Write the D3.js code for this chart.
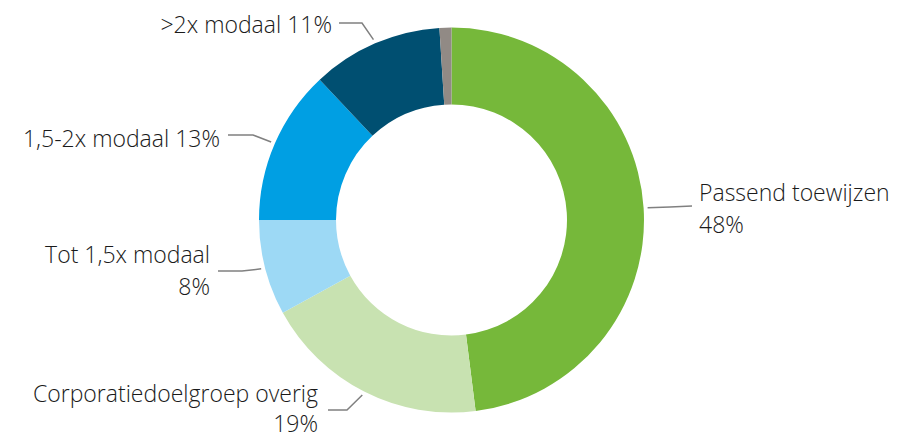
<!DOCTYPE html>
<html>
<head>
<meta charset="utf-8">
<script src="https://d3js.org/d3.v7.min.js"></script>
<style>
    body { margin: 0; background: #fff; }
    text { font-family: "Open Sans", sans-serif; font-weight: 300; fill: #1a1a1a; }
</style>
</head>
<body>
<div id="chart"></div>
<script>
// slices, clockwise from 12 o'clock
var categories = ["Passend toewijzen", "Corporatiedoelgroep overig", "Tot 1,5x modaal", "1,5-2x modaal", ">2x modaal", "Overig"];
var values = [48, 19, 8, 13, 11, 1];
var labelLines = [["Passend toewijzen", "48%"], ["Corporatiedoelgroep overig", "19%"], ["Tot 1,5x modaal", "8%"], ["1,5-2x modaal 13%"], [">2x modaal 11%"], []];
var colors = ["#76b83a", "#c8e2b1", "#9dd9f5", "#009fe3", "#004f71", "#918a85"];

window.onload = function() {
    donut();
};

function donut() {
    var width = 897;
    var height = 439;
    var cx = 451.5, cy = 220;
    var outer = 192.5, inner = 115.5;

    var svg = d3.select("#chart").append("svg")
        .attr("width", width)
        .attr("height", height);

    var pie = d3.pie().sort(null).value(function(d) { return d; });
    var arcs = pie(values);

    var arc = d3.arc().innerRadius(inner).outerRadius(outer);

    var g = svg.append("g").attr("transform", "translate(" + cx + "," + cy + ")");

    g.selectAll(".slice").data(arcs).enter().append("path")
        .attr("class", "slice")
        .attr("d", arc)
        .attr("fill", function(d, i) { return colors[i]; });

    // label layout: anchor, text x, first baseline, line gap, and the leader's start + elbow
    var layout = [
        {anchor: "start", x: 699, y: 201, gap: 32, line: [[692, 206], [670, 207]]},
        {anchor: "end", x: 318, y: 402, gap: 30, line: [[328, 410], [347, 410]]},
        {anchor: "end", x: 210, y: 263, gap: 32, line: [[218, 271], [242, 271]]},
        {anchor: "end", x: 220, y: 147, gap: 32, line: [[228, 135], [253, 135]]},
        {anchor: "end", x: 332, y: 33, gap: 32, line: [[339, 23], [362, 23]]}
    ];

    layout.forEach(function(l, i) {
        var d = arcs[i];
        // leader ends just outside the middle of the slice
        var ang = (d.startAngle + d.endAngle) / 2;
        var px = cx + (outer + 4) * Math.sin(ang);
        var py = cy - (outer + 4) * Math.cos(ang);
        var pts = l.line.concat([[px, py]]);
        svg.append("path")
            .attr("d", d3.line()(pts))
            .attr("fill", "none")
            .attr("stroke", "#808080")
            .attr("stroke-width", 1.5);

        var t = svg.append("text")
            .attr("text-anchor", l.anchor)
            .style("font-size", "23px");
        labelLines[i].forEach(function(s, k) {
            t.append("tspan").attr("x", l.x).attr("y", l.y + k * l.gap).text(s);
        });
    });
}
</script>
</body>
</html>
